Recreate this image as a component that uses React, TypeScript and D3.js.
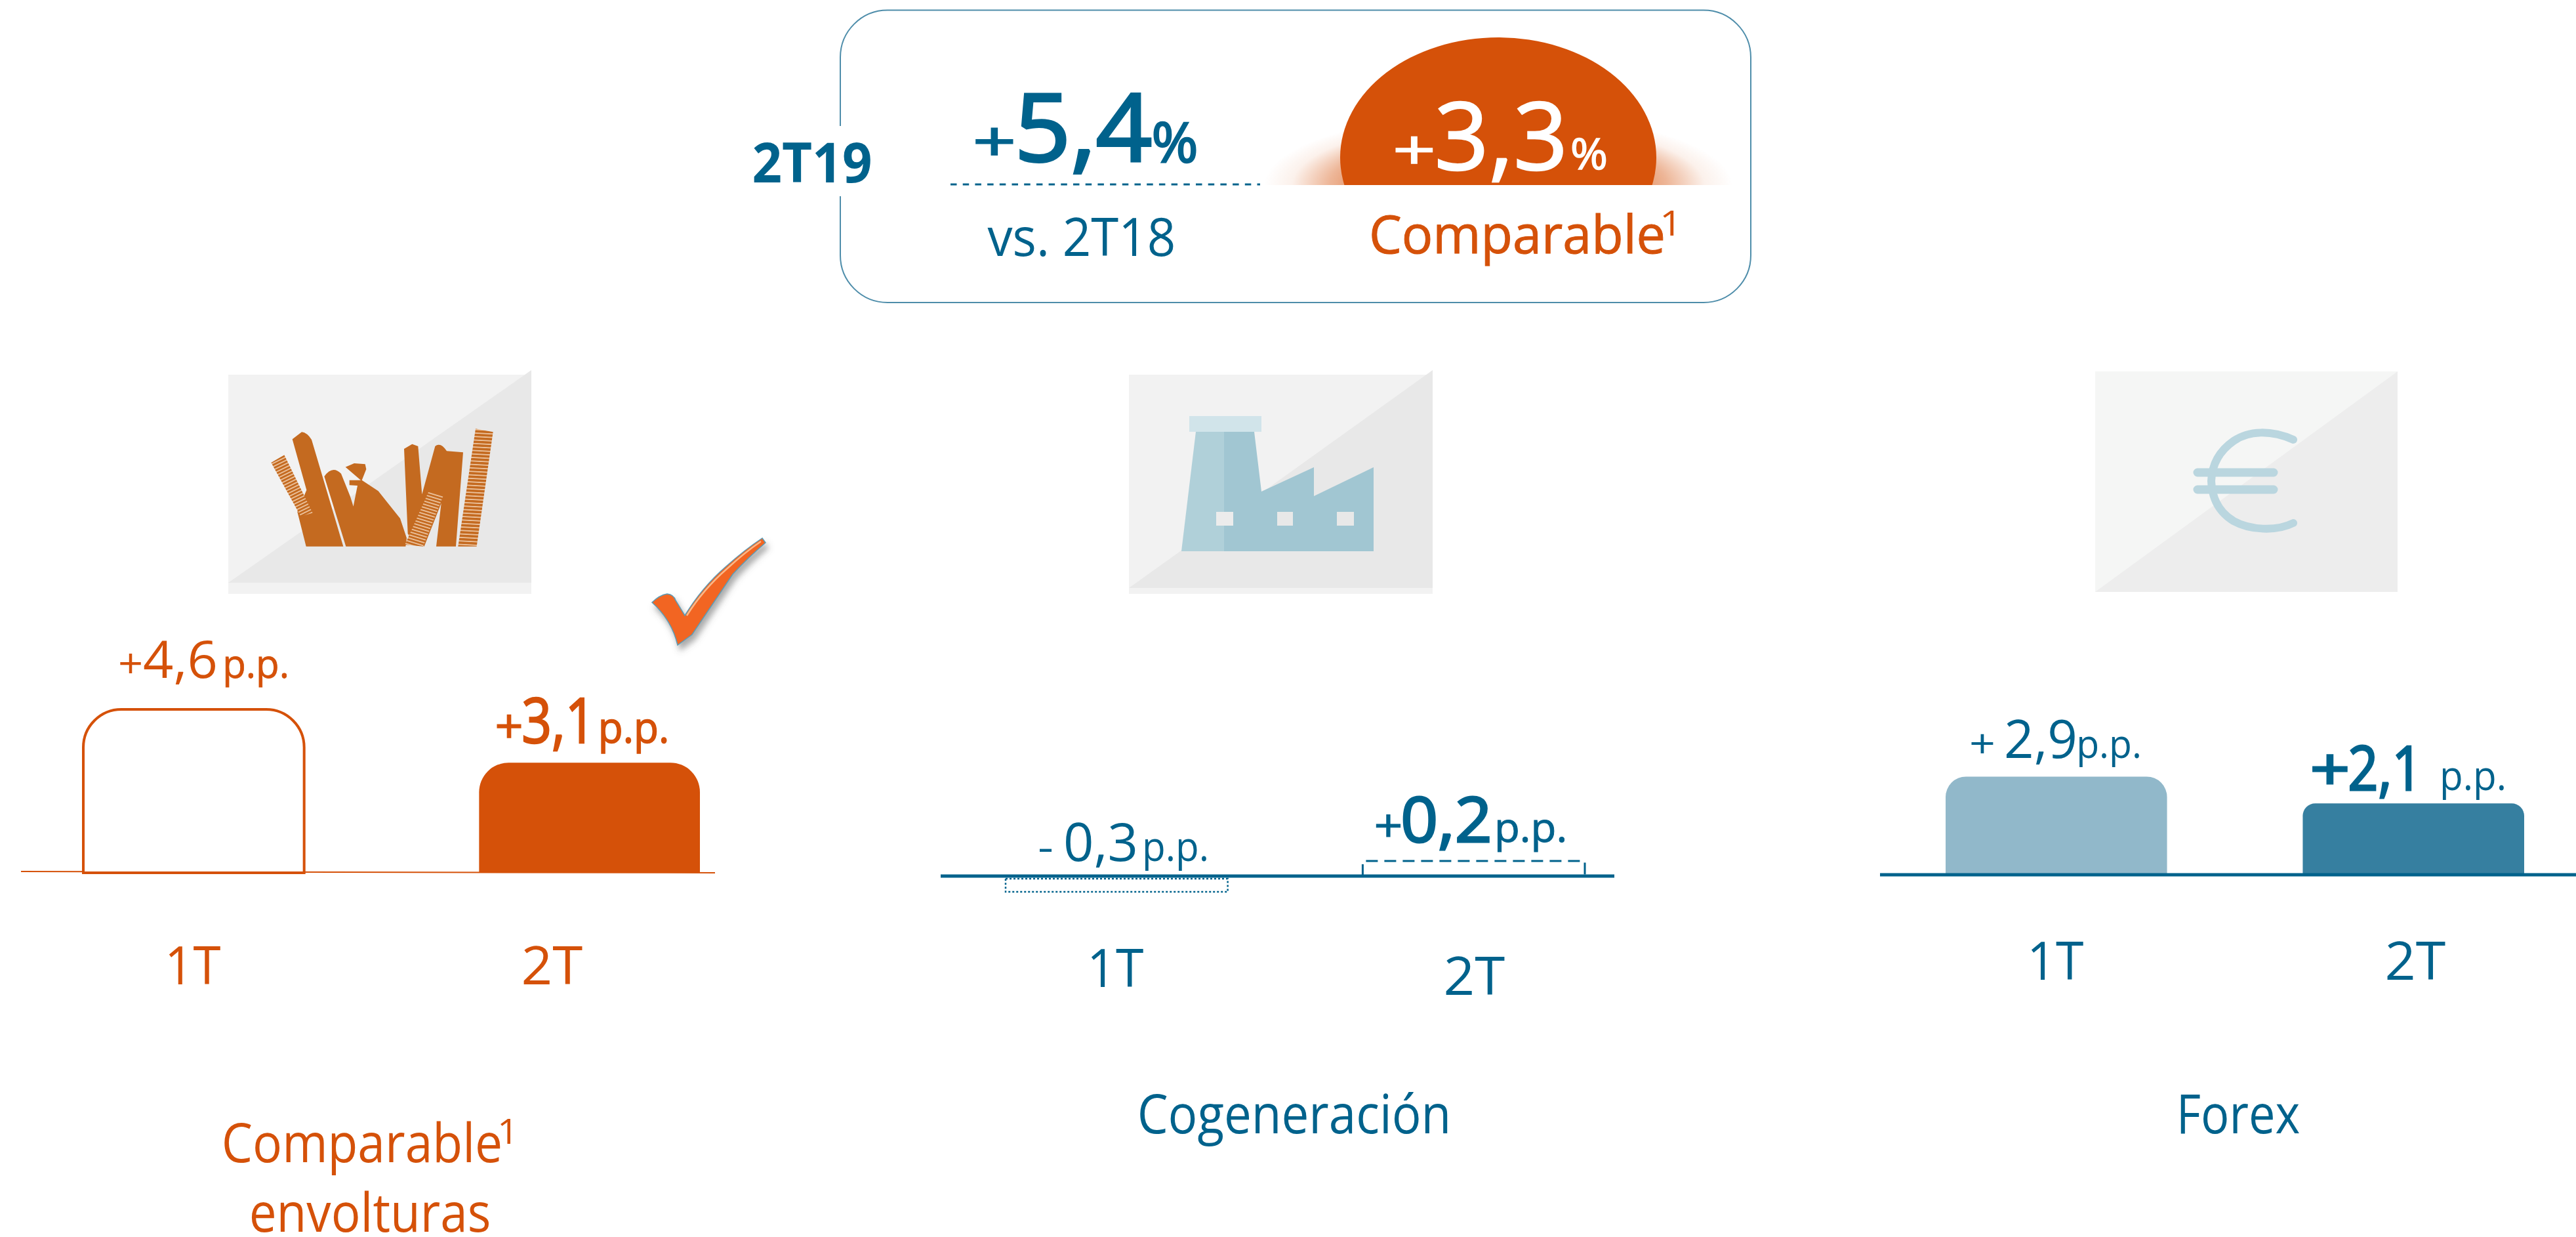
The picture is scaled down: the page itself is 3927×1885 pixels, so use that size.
import React from "react";
import * as d3 from "d3";

const BLUE = "#00628C";
const ORANGE = "#D55109";
const FONT = "'Open Sans', 'Noto Sans', sans-serif";

const periods = ["1T", "2T"];
const envolturasValues = [4.6, 3.1];
const cogeneracionValues = [-0.3, 0.2];
const forexValues = [2.9, 2.1];
const envolturasLabels = ["4,6", "3,1"];
const cogeneracionLabels = ["0,3", "0,2"];
const forexLabels = ["2,9", "2,1"];
const unit = "p.p.";

// One text element built of runs; each run is fitted to its measured ink box.
type Run = { x: number; w: number; y: number; s: number; t: string; b?: number; pad?: number; lp?: number; sw?: number };
const Row = ({ runs, c = BLUE }: { runs: Run[]; c?: string }) => (
  <text fontFamily={FONT} fill={c}>
    {runs.map((r, i) => {
      const l = (r.lp ?? r.pad ?? 0.05) * r.s;
      const e = (r.pad ?? 0.05) * r.s;
      return (
        <tspan key={i} x={r.x - l} y={r.y} fontSize={r.s} fontWeight={r.b ?? 400}
          stroke={r.sw ? c : "none"} strokeWidth={r.sw ?? 0}
          textLength={r.w + l + e} lengthAdjust="spacingAndGlyphs">{r.t}</tspan>
      );
    })}
  </text>
);
const T = (p: Run & { c?: string }) => <Row runs={[p]} c={p.c} />;

// rounded-top bar path
const barPath = (x: number, w: number, top: number, bottom: number, r: number) => {
  const p = d3.path();
  p.moveTo(x, bottom);
  p.lineTo(x, top + r);
  p.arcTo(x, top, x + r, top, r);
  p.lineTo(x + w - r, top);
  p.arcTo(x + w, top, x + w, top + r, r);
  p.lineTo(x + w, bottom);
  p.closePath();
  return p.toString();
};

const band = (a: number, b: number, inner: number) =>
  d3.scaleBand<string>().domain(periods).range([a, b]).paddingInner(inner).paddingOuter(0);

const x1 = band(127, 1067, 0.442);
const y1 = d3.scaleLinear().domain([0, 4.6]).range([1330, 1081]);
const x2 = band(1533, 2416, 0.378);
const y2 = d3.scaleLinear().domain([-0.3, 0, 0.2]).range([1359, 1335, 1312]);
const x3 = band(2966, 3848, 0.38);
const y3 = d3.scaleLinear().domain([0, 2.9]).range([1331, 1183.5]);

const Tile = ({ x0, x1: xe, yTop, yBot, triTop, triBot, light, dark }: any) => (
  <g>
    <rect x={x0} y={yTop} width={xe - x0} height={yBot - yTop} fill={light} />
    <polygon points={`${x0},${triBot} ${xe},${triTop} ${xe},${triBot}`} fill={dark} />
  </g>
);

const ICON = "#C46A20";
const PackIcon = () => (
  <g transform="translate(380,600) scale(0.33333)">
    <defs>
      <pattern id="st1" width="20" height="14" patternUnits="userSpaceOnUse" patternTransform="rotate(-26)">
        <rect width="20" height="14" fill={ICON} /><rect y="9" width="20" height="5" fill="#EFC9A6" />
      </pattern>
      <pattern id="st2" width="20" height="14" patternUnits="userSpaceOnUse" patternTransform="rotate(17)">
        <rect width="20" height="14" fill={ICON} /><rect y="9" width="20" height="5" fill="#EFC9A6" />
      </pattern>
      <pattern id="st3" width="20" height="16" patternUnits="userSpaceOnUse" patternTransform="rotate(3)">
        <rect width="20" height="16" fill={ICON} /><rect y="11" width="20" height="5" fill="#EFC9A6" />
      </pattern>
    </defs>
    <path d="M197,208 L240,175 Q265,178 285,210 L430,698 L260,698 L220,540 L262,440 Z" fill={ICON} />
    <polygon points="100,315 160,280 290,545 235,560" fill="url(#st1)" />
    <path d="M343,378 Q380,325 420,365 L462,470 L476,515 L495,420 L458,418 L458,395 L510,395 L440,335 L480,318 L530,322 L535,345 L515,395 L590,445 L690,570 L720,660 L715,698 L442,698 Z" fill={ICON} />
    <path d="M708,252 L745,230 L772,240 L790,460 L850,240 Q875,220 903,262 L978,268 L945,698 L855,698 L878,500 L800,698 L740,660 L725,640 Z" fill={ICON} />
    <polygon points="820,448 888,465 795,698 712,690" fill="url(#st2)" />
    <polygon points="1035,160 1115,175 1040,698 955,698" fill="url(#st3)" />
  </g>
);

const FactoryIcon = () => (
  <g>
    <polygon points="1866,658 1912,658 1923,749 2003,712 2003,756 2094,712 2094,840 1866,840" fill="#A1C6D2" />
    <polygon points="1823,658 1866,658 1866,840 1801,840" fill="#B0D0D9" />
    <rect x={1813} y={634} width={110} height={24} fill="#D1E4EA" />
    <rect x={1854} y={780} width={26} height={21} fill="#ECECEC" />
    <rect x={1947} y={780} width={24} height={21} fill="#E8E8E8" />
    <rect x={2038} y={780} width={26} height={21} fill="#E8E8E8" />
  </g>
);

const EuroIcon = () => (
  <g fill="none" stroke="#BAD6DF" strokeWidth={12} strokeLinecap="round">
    <path d="M3496,670 C3462,655 3428,656 3405,672 C3382,688 3372,710 3371,733 C3372,758 3382,780 3405,794 C3430,808 3470,810 3496,797" />
    <path d="M3350,720 H3466 M3350,746 H3466" strokeWidth={13} />
  </g>
);

export default function App() {
  return (
    <svg width={3927} height={1885} style={{ position: "fixed", left: 0, top: 0, display: "block", background: "#fff" }}>
      <defs>
        <radialGradient id="glow" gradientUnits="userSpaceOnUse" cx={0} cy={0} r={1}
          gradientTransform="translate(2284 282) scale(357 110)">
          <stop offset="0.6" stopColor={ORANGE} stopOpacity={0.6} />
          <stop offset="0.72" stopColor={ORANGE} stopOpacity={0.42} />
          <stop offset="0.88" stopColor={ORANGE} stopOpacity={0.08} />
          <stop offset="1" stopColor={ORANGE} stopOpacity={0} />
        </radialGradient>
        <clipPath id="capClip"><rect x={1800} y={0} width={1000} height={282} /></clipPath>
        <filter id="shadow" x="-30%" y="-30%" width="160%" height="160%">
          <feDropShadow dx={4} dy={8} stdDeviation={5} floodColor="#555" floodOpacity={0.5} />
        </filter>
      </defs>

      {/* Header box */}
      <rect x={1281} y={15.5} width={1388} height={445.5} rx={72} ry={72} fill="#fff" stroke="#4E8DAA" strokeWidth={2} />
      <rect x={1270} y={192} width={22} height={107} fill="#fff" />
      <T x={1149} w={178} y={278} s={84} b={700} pad={0.03} t="2T19" />

      <Row runs={[
        { x: 1487, w: 58, y: 245, s: 84, sw: 2, t: "+" },
        { x: 1554, w: 195, y: 246, s: 143, sw: 4, t: "5,4" },
        { x: 1758, w: 66, y: 247, s: 84, sw: 2.5, pad: 0.03, t: "%" },
      ]} />
      <line x1={1449} x2={1921} y1={281} y2={281} stroke={BLUE} strokeWidth={3} strokeDasharray="9.5 9.2" />
      <T x={1508} w={282} y={390} s={81} pad={0.03} t="vs. 2T18" />

      <g clipPath="url(#capClip)">
        <ellipse cx={2284} cy={282} rx={357} ry={110} fill="url(#glow)" />
        <ellipse cx={2284} cy={240} rx={241} ry={183} fill={ORANGE} />
      </g>
      <Row c="#fff" runs={[
        { x: 2127, w: 58, y: 258, s: 84, sw: 1.5, t: "+" },
        { x: 2194, w: 189, y: 259, s: 143, sw: 2.5, t: "3,3" },
        { x: 2396, w: 53, y: 258, s: 66, sw: 1.5, pad: 0.03, t: "%" },
      ]} />
      <Row c={ORANGE} runs={[
        { x: 2091, w: 444, y: 386, s: 81, sw: 1, t: "Comparable" },
        { x: 2539, w: 17, y: 359, s: 53, lp: 0.17, pad: 0.16, t: "1" },
      ]} />

      {/* Panel 1: envolturas */}
      <Tile x0={348} x1={810} yTop={571} yBot={905} triTop={564} triBot={888} light="#F2F2F2" dark="#E8E8E8" />
      <PackIcon />
      <g filter="url(#shadow)">
        <path d="M994,918 Q1005,907 1017,905 Q1027,906 1030,915 L1044,938 Q1070,895 1107,863 Q1135,838 1162,820 L1167,827 Q1140,850 1117,875 L1055,967 L1033,983 Q1024,945 994,918 Z"
          fill="#F26522" stroke="#5B9BB5" strokeWidth={1.5} />
      </g>
      <path d="M1047,938 Q1072,898 1109,866 Q1135,842 1160,825" fill="none" stroke="#F9B98A" strokeWidth={2.5} />
      <line x1={32} x2={1090} y1={1328} y2={1330} stroke={ORANGE} strokeWidth={2} />
      <path d={barPath(x1("1T")!, x1.bandwidth(), y1(envolturasValues[0]), y1(0), 58)} fill="#fff" stroke={ORANGE} strokeWidth={4} />
      <path d={barPath(x1("2T")!, x1.bandwidth(), y1(envolturasValues[1]), y1(0), 45)} fill={ORANGE} />
      <Row c={ORANGE} runs={[
        { x: 183, w: 32, y: 1033, s: 62, t: "+" },
        { x: 222, w: 106, y: 1033, s: 78, t: envolturasLabels[0] },
        { x: 344, w: 94, y: 1033, s: 60, lp: 0.08, sw: 0.8, t: unit },
      ]} />
      <Row c={ORANGE} runs={[
        { x: 758, w: 36, y: 1132, s: 72, sw: 1.5, t: "+" },
        { x: 800, w: 103, y: 1132, s: 95, sw: 2.5, t: envolturasLabels[1] },
        { x: 917, w: 100, y: 1132, s: 65, sw: 1.5, lp: 0.08, t: unit },
      ]} />
      <T x={259} w={76} y={1500} s={81} c={ORANGE} lp={0.1} pad={0.02} t={periods[0]} />
      <T x={797} w={89} y={1500} s={81} c={ORANGE} pad={0.03} t={periods[1]} />
      <Row c={ORANGE} runs={[
        { x: 342, w: 420, y: 1771, s: 83, t: "Comparable" },
        { x: 767, w: 15, y: 1743, s: 53, lp: 0.17, pad: 0.16, t: "1" },
      ]} />
      <T x={383} w={362} y={1877} s={83} c={ORANGE} pad={0.04} t="envolturas" />

      {/* Panel 2: cogeneración */}
      <Tile x0={1721} x1={2184} yTop={571} yBot={905} triTop={564} triBot={896} light="#F2F2F2" dark="#E8E8E8" />
      <FactoryIcon />
      <rect x={x2("1T")} y={y2(0) + 4} width={x2.bandwidth()} height={y2(cogeneracionValues[0]) - y2(0) - 4}
        fill="none" stroke={BLUE} strokeWidth={2.5} strokeDasharray="3 3" />
      <path d={`M${x2("2T")},${y2(0)} V${y2(cogeneracionValues[1])} H${x2("2T")! + x2.bandwidth()} V${y2(0)}`}
        fill="none" stroke={BLUE} strokeWidth={3} strokeDasharray="18 10" />
      <line x1={1434} x2={2461} y1={y2(0)} y2={y2(0)} stroke={BLUE} strokeWidth={5} />
      <Row runs={[
        { x: 1585, w: 18, y: 1312, s: 60, t: "-" },
        { x: 1625, w: 106, y: 1312, s: 80, t: cogeneracionLabels[0] },
        { x: 1746, w: 94, y: 1312, s: 62, lp: 0.08, t: unit },
      ]} />
      <Row runs={[
        { x: 2098, w: 37, y: 1283, s: 70, sw: 1, t: "+" },
        { x: 2140, w: 130, y: 1283, s: 95, sw: 3, t: cogeneracionLabels[1] },
        { x: 2283, w: 103, y: 1283, s: 63, sw: 1, lp: 0.08, t: unit },
      ]} />
      <T x={1665} w={77} y={1504} s={80} lp={0.1} pad={0.02} t={periods[0]} />
      <T x={2203} w={89} y={1516} s={80} pad={0.03} t={periods[1]} />
      <T x={1737} w={472} y={1727} s={83} pad={0.04} t="Cogeneración" />

      {/* Panel 3: forex */}
      <Tile x0={3194} x1={3655} yTop={566} yBot={902} triTop={566} triBot={902} light="#F5F6F5" dark="#EDEDED" />
      <EuroIcon />
      <path d={barPath(x3("1T")!, x3.bandwidth(), y3(forexValues[0]), y3(0), 31)} fill="#91B8CA" />
      <path d={barPath(x3("2T")!, x3.bandwidth(), y3(forexValues[1]), y3(0) + 1, 19)} fill="#367FA0" />
      <line x1={2866} x2={3927} y1={1333} y2={1333} stroke={BLUE} strokeWidth={5} />
      <Row runs={[
        { x: 3005, w: 34, y: 1155, s: 60, t: "+" },
        { x: 3059, w: 104, y: 1155, s: 80, t: forexLabels[0] },
        { x: 3170, w: 92, y: 1155, s: 60, lp: 0.08, t: unit },
      ]} />
      <Row runs={[
        { x: 3526, w: 52, y: 1204, s: 90, sw: 3, t: "+" },
        { x: 3584, w: 104, y: 1204, s: 93, sw: 3, t: forexLabels[1] },
        { x: 3724, w: 94, y: 1204, s: 62, lp: 0.08, t: unit },
      ]} />
      <T x={3098} w={77} y={1493} s={80} lp={0.1} pad={0.02} t={periods[0]} />
      <T x={3638} w={88} y={1493} s={80} pad={0.03} t={periods[1]} />
      <T x={3321} w={182} y={1727} s={83} pad={0.04} t="Forex" />
    </svg>
  );
}
